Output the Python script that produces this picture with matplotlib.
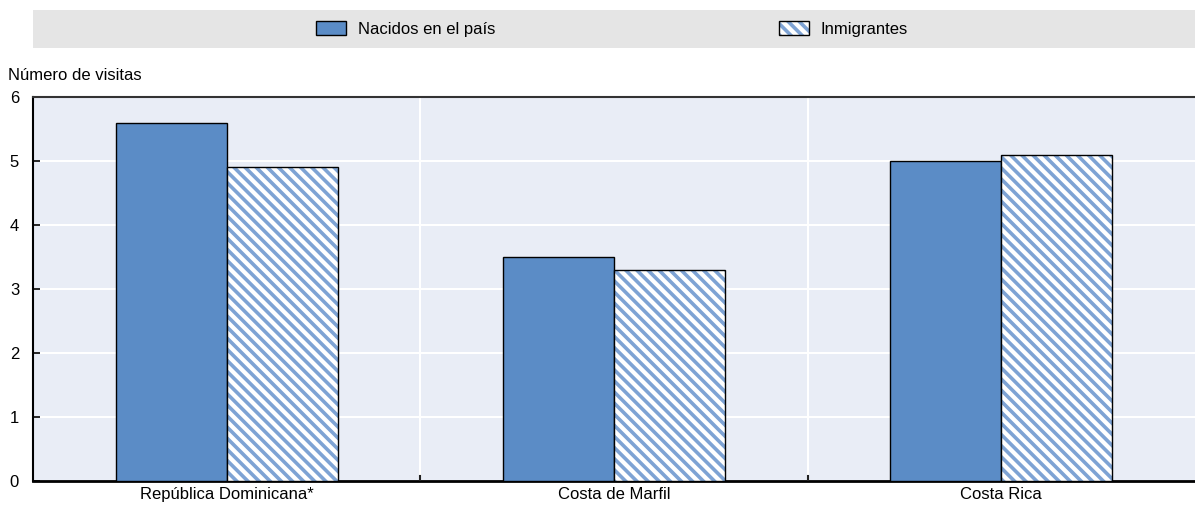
import matplotlib.pyplot as plt
import numpy as np
from matplotlib.patches import Rectangle

categories = ["República Dominicana*", "Costa de Marfil", "Costa Rica"]
native = [5.6, 3.5, 5.0]
immigrants = [4.9, 3.3, 5.1]
series_labels = ["Nacidos en el país", "Inmigrantes"]
y_ticks = [0, 1, 2, 3, 4, 5, 6]

BLUE = "#5b8cc6"
HATCH_BLUE = "#7ea3d4"
BG = "#e9edf6"
LEGEND_BG = "#e5e5e5"

plt.rcParams["font.family"] = ["Liberation Sans Narrow", "Liberation Sans", "DejaVu Sans"]
plt.rcParams["hatch.linewidth"] = 2.6

fig = plt.figure(figsize=(11.95, 5.08), dpi=100)
ax = fig.add_axes([33 / 1195, 27 / 508, 1 - 33 / 1195, 384 / 508])
ax.set_facecolor(BG)

x = np.arange(len(categories))
width = 0.287

ax.bar(x - width / 2, native, width, color=BLUE, edgecolor="black",
       linewidth=1, zorder=3)
# hatch takes the edge colour, so draw the stripes first and the black outline on top
ax.bar(x + width / 2, immigrants, width, color="white", edgecolor=HATCH_BLUE,
       linewidth=0, hatch="\\\\\\", zorder=3)
ax.bar(x + width / 2, immigrants, width, color="none", edgecolor="black",
       linewidth=1, zorder=4)

ax.set_xlim(-0.5, 2.5)
ax.set_ylim(0, 6)
ax.set_yticks(y_ticks)
ax.set_yticklabels([str(v) for v in y_ticks], fontsize=12)
ax.set_xticks(x)
ax.set_xticklabels(categories, fontsize=12)
ax.tick_params(axis="x", length=0, pad=4)
ax.tick_params(axis="y", direction="in", length=5, width=1.2, pad=10)

# gridlines: horizontal at ticks, vertical between groups
for v in y_ticks[1:]:
    ax.axhline(v, color="white", linewidth=1.5, zorder=1)
for b in [0.5, 1.5]:
    ax.axvline(b, color="white", linewidth=1.5, zorder=1)
    ax.plot([b, b], [0, 0.08], color="#222222", linewidth=1.5, zorder=4)

ax.spines["right"].set_visible(False)
ax.spines["left"].set_linewidth(1.5)
ax.spines["bottom"].set_linewidth(2)
ax.spines["top"].set_linewidth(1.5)
ax.spines["top"].set_color("#333333")

fig.text(8 / 1195, 1 - 75 / 508, "Número de visitas", fontsize=12, va="center", ha="left")

# legend strip
fig.patches.append(Rectangle((33 / 1195, 1 - 48 / 508), 1 - 33 / 1195, 38 / 508,
                             transform=fig.transFigure, facecolor=LEGEND_BG,
                             edgecolor="none", zorder=0))
legend_native = Rectangle((0, 0), 1, 1, facecolor=BLUE, edgecolor="black", linewidth=1)
legend_stripes = Rectangle((0, 0), 1, 1, facecolor="white", edgecolor=HATCH_BLUE,
                           linewidth=0, hatch="\\\\\\")
legend_outline = Rectangle((0, 0), 1, 1, facecolor="none", edgecolor="black", linewidth=1)
fig.legend([legend_native, (legend_stripes, legend_outline)], series_labels, loc="center",
           bbox_to_anchor=(612 / 1195, 1 - 29 / 508),
           ncol=2, frameon=False, fontsize=12, columnspacing=17,
           handlelength=1.8, handleheight=0.9, handletextpad=0.7)

fig.savefig("out.png", dpi=100)
